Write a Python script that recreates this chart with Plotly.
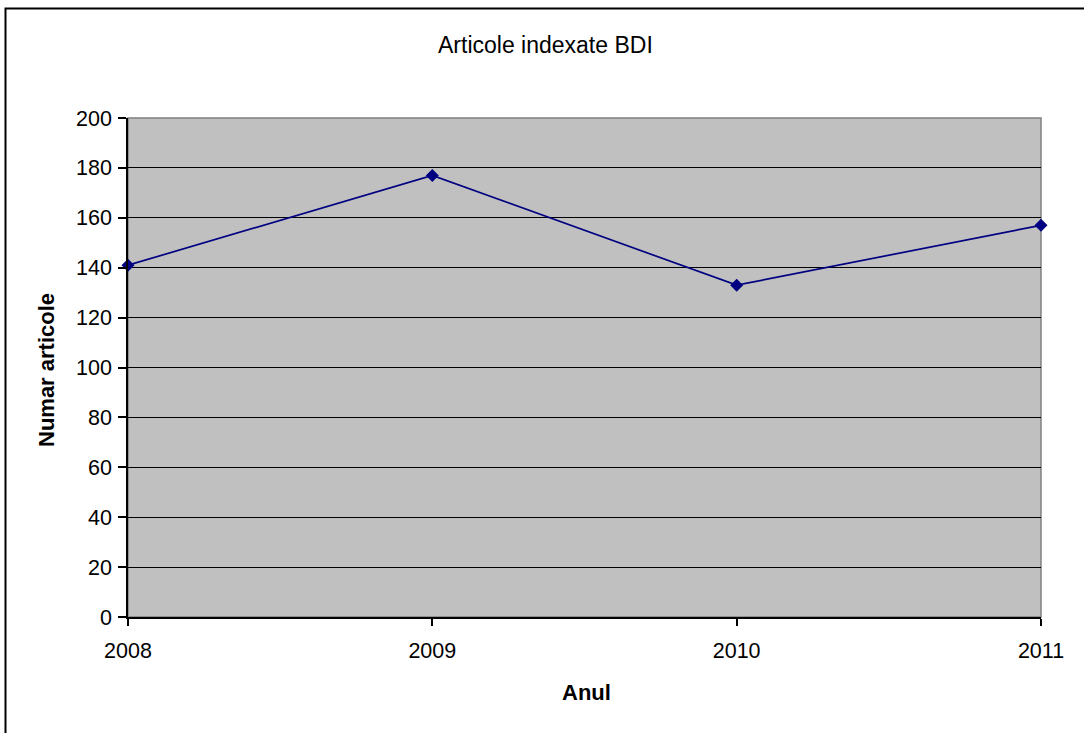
import plotly.graph_objects as go

years = [2008, 2009, 2010, 2011]
articles = [141, 177, 133, 157]
y_ticks = [0, 20, 40, 60, 80, 100, 120, 140, 160, 180, 200]

W, H = 1084, 733
L, R, T, B = 128, 1041, 118, 617
pw, ph = R - L, B - T

def px(x):
    return (x - L) / pw

def py(y):
    return (B - y) / ph

fig = go.Figure()
fig.add_trace(go.Scatter(
    x=years, y=articles, mode="lines+markers",
    line=dict(color="#000080", width=1.7),
    marker=dict(symbol="diamond", size=10, color="#000080"),
    cliponaxis=False, showlegend=False,
))

font = "Liberation Sans, Arial, sans-serif"
fig.update_layout(
    width=W, height=H,
    margin=dict(l=L, r=W - R, t=T, b=H - B),
    paper_bgcolor="white", plot_bgcolor="#C0C0C0",
    font=dict(family=font, size=22, color="black"),
    xaxis=dict(range=[2008, 2011], tickvals=years, ticktext=[str(y) for y in years],
               showgrid=False, zeroline=False, showline=True, linecolor="black", linewidth=1.5,
               ticks="outside", ticklen=7, tickcolor="black", tickwidth=1.5,
               tickfont=dict(size=21.5), ticklabelstandoff=6),
    yaxis=dict(range=[0, 200], tickvals=y_ticks,
               showgrid=True, gridcolor="black", gridwidth=1, zeroline=False,
               showline=True, linecolor="black", linewidth=1.5,
               ticks="outside", ticklen=8, tickcolor="black", tickwidth=1.5,
               tickfont=dict(size=21.5), ticklabelstandoff=2),
    shapes=[
        dict(type="rect", xref="paper", yref="paper", x0=0, x1=1, y0=0, y1=1,
             line=dict(color="#808080", width=1.5), layer="below"),
        dict(type="rect", xref="paper", yref="paper",
             x0=px(5.5), x1=px(1100), y0=py(750), y1=py(8.5),
             line=dict(color="black", width=2)),
    ],
    annotations=[
        dict(text="Articole indexate BDI", xref="paper", yref="paper",
             x=px(545), y=py(45), showarrow=False, font=dict(size=23),
             xanchor="center", yanchor="middle"),
        dict(text="<b>Anul</b>", xref="paper", yref="paper",
             x=px(586), y=py(692), showarrow=False, font=dict(size=22),
             xanchor="center", yanchor="middle"),
        dict(text="<b>Numar articole</b>", xref="paper", yref="paper",
             x=px(46), y=py(370), showarrow=False, font=dict(size=22),
             textangle=-90, xanchor="center", yanchor="middle"),
    ],
)

fig.write_html(
    "out.html",
    config={"displayModeBar": False},
    post_script="document.body.style.margin='0';document.body.style.overflow='hidden';",
)
